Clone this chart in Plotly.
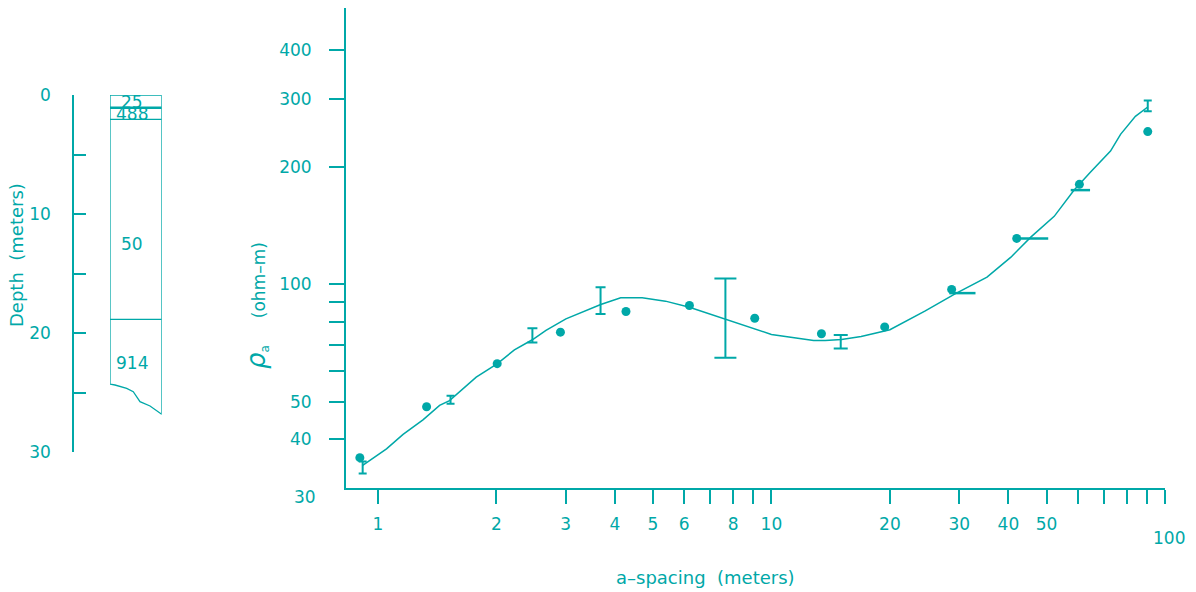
import numpy as np
import plotly.graph_objects as go

TEAL = "#00a8a8"
FONT = "DejaVu Sans"

# ---------------- data: sounding curve ----------------
obs_spacing = [0.90, 1.33, 2.01, 2.91, 4.27, 6.19, 9.07, 13.4, 19.4, 28.7, 42.0, 60.6, 90.4]
obs_rho = [35.9, 48.5, 62.6, 75.4, 85.2, 88.3, 81.9, 74.7, 77.8, 97.1, 131.3, 180.8, 247.0]

model_spacing = [0.915, 1.052, 1.159, 1.302, 1.435, 1.521, 1.778, 2.013, 2.223, 2.469,
                 2.674, 3.005, 3.684, 4.14, 4.695, 5.38, 6.19, 7.64, 9.09, 10.0,
                 12.8, 13.7, 15.07, 16.9, 20.0, 24.6, 29.2, 35.3, 40.6, 45.6,
                 52.3, 58.7, 64.7, 72.7, 77.1, 84.1, 90.4]
model_rho = [34.3, 37.8, 41.2, 44.9, 48.9, 50.3, 57.8, 62.6, 67.9, 72.1,
             76.2, 81.6, 88.8, 92.4, 92.4, 90.6, 87.4, 81.3, 76.6, 74.4,
             71.8, 71.8, 72.2, 73.5, 76.5, 85.5, 94.4, 104.4, 117.5, 132.3,
             149.6, 174.5, 194.4, 220.1, 243.0, 270.3, 285.6]

# vertical error bars
err_spacing = [0.915, 1.53, 2.47, 3.68, 7.64, 15.0, 90.4]
err_low = [32.7, 49.4, 70.9, 83.9, 64.8, 68.5, 278.5]
err_high = [35.1, 51.8, 77.2, 98.4, 103.6, 74.2, 297.0]
err_cap_halfwidth = [4, 4, 5, 5, 11, 7, 4]

# horizontal bars
hbar_start = [28.3, 42.0, 57.6]
hbar_end = [33.0, 50.5, 64.5]
hbar_rho = [95.0, 131.3, 174.7]

x_tickvals = [1, 2, 3, 4, 5, 6, 8, 10, 20, 30, 40, 50]
x_ticktext = ["1", "2", "3", "4", "5", "6", "8", "10", "20", "30", "40", "50"]
x_minor_ticks = [7, 9, 60, 70, 80, 90, 100]
x_end_label = 100
y_tickvals = [40, 50, 100, 200, 300, 400]
y_ticktext = ["40", "50", "100", "200", "300", "400"]
y_minor_ticks = [60, 70, 80, 90]
y_end_label = 30

# ---------------- data: layered earth column ----------------
layer_resistivity = ["25", "488", "50", "914"]
layer_interfaces = [1.07, 2.04, 18.85]
layer_label_depth = [0.6, 1.6, 12.5, 22.5]
bottom_x = [0.0, 0.097, 0.323, 0.45, 0.58, 0.774, 1.0]
bottom_depth = [24.3, 24.37, 24.65, 24.93, 25.77, 26.13, 26.83]
depth_tickvals = [0, 10, 20, 30]
depth_minor_ticks = [5, 15, 25]

W, H = 1196, 592
fig = go.Figure()

fig.add_trace(go.Scatter(x=model_spacing, y=model_rho, mode="lines",
                         line=dict(color=TEAL, width=1.5), hoverinfo="skip"))
for xs, lo, hi, cw in zip(err_spacing, err_low, err_high, err_cap_halfwidth):
    fig.add_trace(go.Scatter(
        x=[xs], y=[lo], mode="markers", marker=dict(size=1, opacity=0),
        error_y=dict(type="data", symmetric=False, array=[hi - lo], arrayminus=[0],
                     width=cw, thickness=2, color=TEAL),
        hoverinfo="skip"))
hx, hy = [], []
for s, e, r in zip(hbar_start, hbar_end, hbar_rho):
    hx += [s, e, None]
    hy += [r, r, None]
fig.add_trace(go.Scatter(x=hx, y=hy, mode="lines", line=dict(color=TEAL, width=2.5),
                         hoverinfo="skip"))
fig.add_trace(go.Scatter(x=obs_spacing, y=obs_rho, mode="markers",
                         marker=dict(color=TEAL, size=9), hoverinfo="skip"))

ox = [bottom_x[0], 0, 1] + bottom_x[::-1]
oy = [bottom_depth[0], 0, 0] + bottom_depth[::-1]
fig.add_trace(go.Scatter(x=ox, y=oy, mode="lines", line=dict(color=TEAL, width=1.3),
                         xaxis="x2", yaxis="y2", hoverinfo="skip"))
for i, d in enumerate(layer_interfaces):
    fig.add_trace(go.Scatter(x=[0, 1], y=[d, d], mode="lines",
                             line=dict(color=TEAL, width=2.5 if i == 0 else 1.3),
                             xaxis="x2", yaxis="y2", hoverinfo="skip"))

annotations = []
for lbl, d in zip(layer_resistivity, layer_label_depth):
    annotations.append(dict(x=0.42, y=d, xref="x2", yref="y2", text=lbl, showarrow=False,
                            xanchor="center", yanchor="middle",
                            font=dict(family=FONT, size=17, color=TEAL)))

annotations += [
    dict(x=705 / W, y=(H - 577) / H, xref="paper", yref="paper", text="a\u2013spacing  (meters)",
         xanchor="center", yanchor="middle",
         showarrow=False, font=dict(family=FONT, size=18, color=TEAL)),
    dict(x=17 / W, y=(H - 255) / H, xref="paper", yref="paper", text="Depth  (meters)",
         xanchor="center", yanchor="middle",
         textangle=-90, showarrow=False, font=dict(family=FONT, size=18, color=TEAL)),
    dict(x=256 / W, y=(H - 306) / H, xref="paper", yref="paper",
         text="<span style='font-size:26px'><i>\u03c1</i></span><sub>a</sub>     (ohm\u2013m)",
         xanchor="center", yanchor="middle",
         textangle=-90, showarrow=False, font=dict(family=FONT, size=17, color=TEAL)),
    dict(x=np.log10(0.83), y=np.log10(y_end_label), xref="x", yref="y", text=str(y_end_label),
         showarrow=False, xanchor="right", yanchor="middle", xshift=-28, yshift=-9,
         font=dict(family=FONT, size=17, color=TEAL)),
    dict(x=np.log10(x_end_label), y=np.log10(30), xref="x", yref="y", text=str(x_end_label),
         showarrow=False, xanchor="center", yanchor="middle", xshift=4, yshift=-50,
         font=dict(family=FONT, size=17, color=TEAL)),
]

axis_common = dict(showgrid=False, zeroline=False, showline=True, linecolor=TEAL,
                   tickcolor=TEAL, automargin=False,
                   tickfont=dict(family=FONT, size=17, color=TEAL))

fig.update_layout(
    width=W, height=H, autosize=False,
    margin=dict(l=0, r=0, t=0, b=0, pad=0, autoexpand=False),
    paper_bgcolor="white", plot_bgcolor="white", showlegend=False,
    font=dict(family=FONT, size=16, color=TEAL),
    xaxis=dict(type="log", domain=[346 / W, 1165 / W], range=[np.log10(0.83), 2],
               linewidth=2, ticks="outside", ticklen=14, tickwidth=2, tickangle=0,
               tickmode="array", tickvals=x_tickvals, ticktext=x_ticktext,
               ticklabelstandoff=6,
               minor=dict(tickmode="array", tickvals=x_minor_ticks, ticks="outside",
                          ticklen=14, tickwidth=1.5, tickcolor=TEAL, showgrid=False),
               anchor="y", **axis_common),
    yaxis=dict(type="log", domain=[(H - 488) / H, (H - 8) / H],
               range=[np.log10(30), np.log10(513)],
               linewidth=2, ticks="outside", ticklen=15, tickwidth=2, tickangle=0,
               tickmode="array", tickvals=y_tickvals, ticktext=y_ticktext,
               ticklabelstandoff=14,
               minor=dict(tickmode="array", tickvals=y_minor_ticks, ticks="outside",
                          ticklen=15, tickwidth=1.5, tickcolor=TEAL, showgrid=False),
               anchor="x", **axis_common),
    xaxis2=dict(domain=[110 / W, 161.7 / W], range=[0, 1], visible=False, anchor="y2"),
    yaxis2=dict(domain=[(H - 452) / H, (H - 95) / H], range=[30, 0],
                linewidth=1.5, ticks="inside", ticklen=12, tickwidth=2, tickangle=0,
                tickmode="array", tickvals=depth_tickvals, ticklabelstandoff=18,
                minor=dict(tickmode="array", tickvals=depth_minor_ticks, ticks="inside",
                           ticklen=12, tickwidth=2, tickcolor=TEAL, showgrid=False),
                anchor="free", position=73 / W, **axis_common),
    annotations=annotations,
)

fig.write_html("out.html", config={"responsive": False})
